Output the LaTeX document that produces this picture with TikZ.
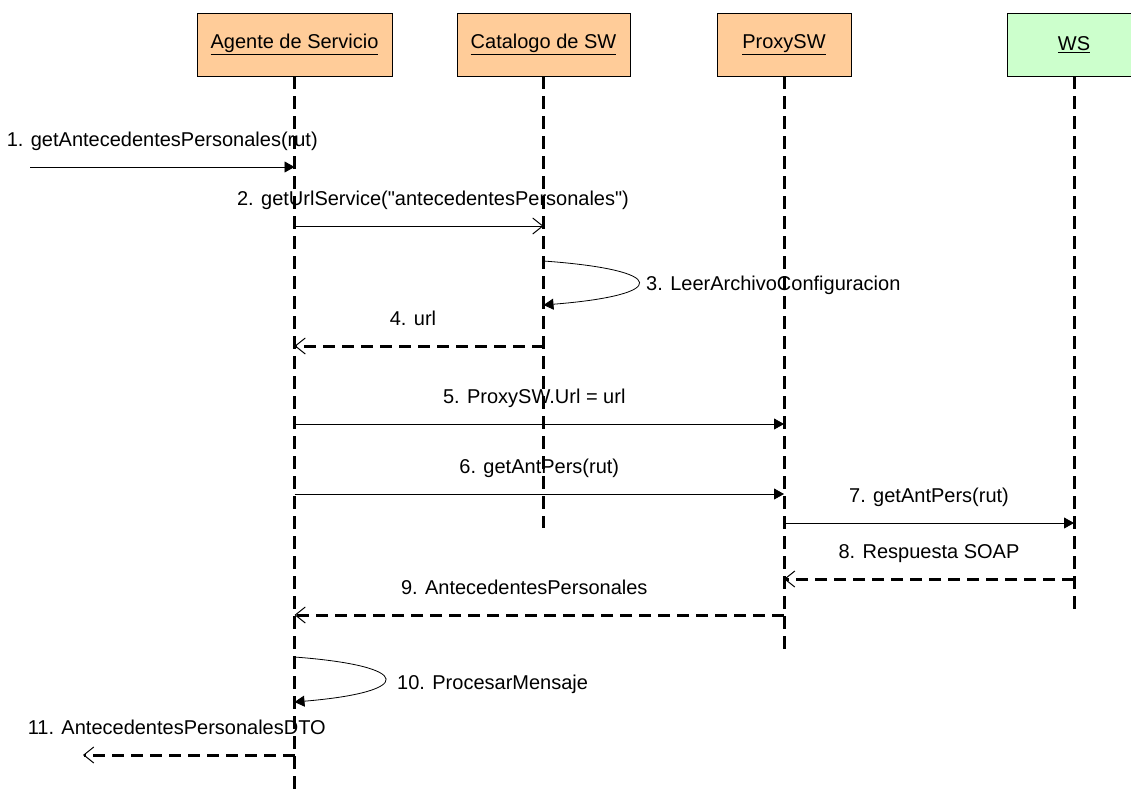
\documentclass[tikz,border=0pt]{standalone}
\usepackage{fontspec}
\setmainfont{Liberation Sans}[Ligatures=TeXOff]
\usetikzlibrary{arrows.meta}
\definecolor{boxorange}{HTML}{FFCC99}
\definecolor{boxgreen}{HTML}{CCFFCC}

\begin{document}
\begin{tikzpicture}[x=1pt, y=-1pt, font=\fontsize{20}{24}\selectfont,
  objbox/.style={draw=black, line width=0.8pt, minimum width=#1, minimum height=63pt, inner sep=0pt},
  lifeline/.style={line width=3pt, dash pattern=on 13pt off 7pt},
  msgcall/.style={line width=0.8pt, -{Triangle[length=10pt, width=11pt]}},
  msgopen/.style={line width=0.8pt, -{Straight Barb[length=10pt, width=16pt, line width=1pt]}},
  msgreply/.style={line width=3pt, dash pattern=on 12pt off 7pt, -{Straight Barb[length=10pt, width=16pt, line width=1pt]}},
  msg/.style={anchor=base, inner sep=0pt, yshift=21pt}]
\useasboundingbox (0,0) rectangle (1131,788);
\clip (0,0) rectangle (1131,788);

% objetos
\node[objbox=195pt, fill=boxorange] (ag) at (294.5,44.5) {\underline{Agente de Servicio}};
\node[objbox=173pt, fill=boxorange] (cat) at (543.5,44.5) {\underline{Catalogo de SW}};
\node[objbox=134pt, fill=boxorange] (px) at (784,44.5) {\underline{ProxySW}};
\node[objbox=134pt, fill=boxgreen] (ws) at (1074,44.5) {\underline{WS}};

% lineas de vida
\draw[lifeline] (ag.south) -- (ag |- 0,792);
\draw[lifeline] (cat.south) -- (cat |- 0,528);
\draw[lifeline] (px.south) -- (px |- 0,650);
\draw[lifeline] (ws.south) -- (ws |- 0,615);

% mensajes
\coordinate (client) at (30,167);
\draw[msgcall] (client) -- (ag |- client) node[msg, midway] {1. getAntecedentesPersonales(rut)};
\draw[msgopen] (ag |- 0,226) -- (cat |- 0,226) node[msg, midway, xshift=14pt] {2. getUrlService("antecedentesPersonales")};
\draw[msgcall] (cat |- 0,261) .. controls (670,270) and (670,295) .. (cat |- 0,305);
\node[anchor=base west, inner sep=0pt] (lbl3) at (646,290) {3. LeerArchivoConfiguracion};
\draw[msgreply] (cat |- 0,346) -- (ag |- 0,346) node[msg, midway, xshift=-6pt] {4. url};
\draw[msgcall] (ag |- 0,424) -- (px |- 0,424) node[msg, midway, xshift=-5pt] {5. ProxySW.Url = url};
\draw[msgcall] (ag |- 0,494) -- (px |- 0,494) node[msg, midway] {6. getAntPers(rut)};
\draw[msgcall] (px |- 0,523) -- (ws |- 0,523) node[msg, midway] {7. getAntPers(rut)};
\draw[msgreply] (ws |- 0,579) -- (px |- 0,579) node[msg, midway] {8. Respuesta SOAP};
\draw[msgreply] (px |- 0,615) -- (ag |- 0,615) node[msg, midway, xshift=-15pt] {9. AntecedentesPersonales};
\draw[msgcall] (ag |- 0,657) .. controls (415,666) and (415,692) .. (ag |- 0,702);
\node[anchor=base west, inner sep=0pt] (lbl10) at (397,689) {10. ProcesarMensaje};
\coordinate (exit) at (83,755);
\draw[msgreply] (ag |- exit) -- (exit) node[msg, midway, xshift=-12pt] {11. AntecedentesPersonalesDTO};
\end{tikzpicture}
\end{document}
